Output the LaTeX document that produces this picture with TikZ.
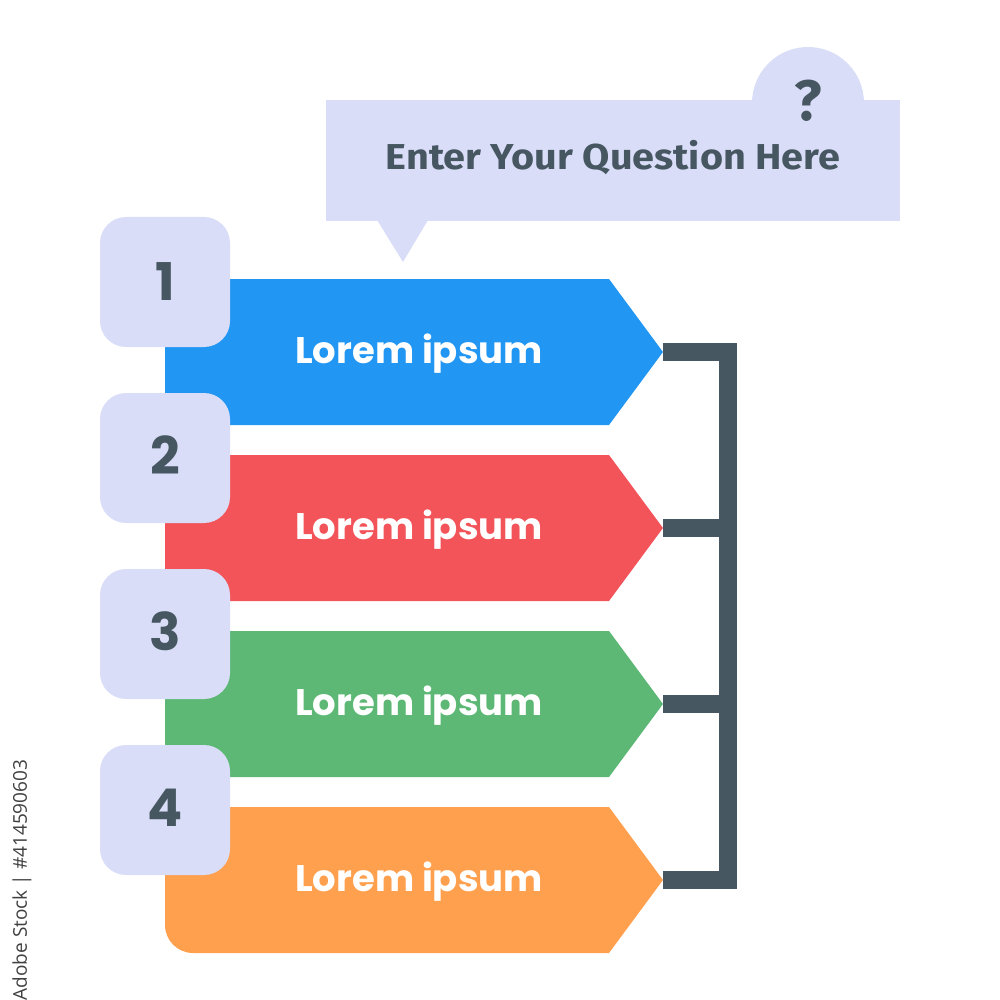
\documentclass[tikz,border=0pt]{standalone}
\usepackage{fontspec}
\setmainfont{Poppins}
\newfontfamily\qfont{Fira Sans}
\newfontfamily\wmfont{Open Sans}
\definecolor{lav}{HTML}{DADDF8}
\definecolor{slate}{HTML}{465762}
\definecolor{cblue}{HTML}{2196F3}
\definecolor{cred}{HTML}{F3545A}
\definecolor{cgreen}{HTML}{5CB874}
\definecolor{corange}{HTML}{FFA04F}
\begin{document}
\begin{tikzpicture}[x=1pt,y=-1pt,
  numbox/.style={fill=lav, rounded corners=26pt},
  numtxt/.style={text=slate, font=\fontsize{52}{52}\selectfont\bfseries, inner sep=0pt, anchor=base},
  bandtxt/.style={text=white, font=\fontsize{37}{37}\selectfont\bfseries, inner sep=0pt, anchor=base},
  bracket/.style={draw=slate, line width=18pt, line join=miter, line cap=butt}]
\useasboundingbox (0,0) rectangle (1000,1000);
% speech bubble
\fill[lav] (808,103) circle (56pt);
\fill[lav] (326,100) rectangle (900,221);
\fill[lav] (377,220) -- (428,220) -- (403,262) -- cycle;
\node[text=slate, font=\qfont\fontsize{57}{57}\selectfont\bfseries, inner sep=0pt] (qmark) at (808,101) {?};
\node[text=slate, font=\qfont\fontsize{36}{36}\selectfont\bfseries, inner sep=0pt, anchor=base] (question) at (613,170) {\scalebox{1.1}[1]{Enter Your Question Here}};
% bands
\fill[cblue] (165,279) -- (609,279) -- (663,352) coordinate (t1) -- (609,425) -- (165,425) -- cycle;
\fill[cred] (165,455) -- (609,455) -- (663,528) coordinate (t2) -- (609,601) -- (165,601) -- cycle;
\fill[cgreen] (165,631) -- (609,631) -- (663,704) coordinate (t3) -- (609,777) -- (165,777) -- cycle;
\fill[corange] (165,807) -- (609,807) -- (663,880) coordinate (t4) -- (609,953) -- (193,953) arc[start angle=270, end angle=180, radius=28pt] -- cycle;
\node[bandtxt] (l1) at (419,363) {Lorem ipsum};
\node[bandtxt] (l2) at (419,539) {Lorem ipsum};
\node[bandtxt] (l3) at (419,715) {Lorem ipsum};
\node[bandtxt] (l4) at (419,891) {Lorem ipsum};
% bracket
\coordinate (c1) at (728,352);
\coordinate (c2) at (728,528);
\coordinate (c3) at (728,704);
\coordinate (c4) at (728,880);
\draw[bracket] (t1) -- (c1) -- (c4) -- (t4);
\draw[bracket] (t2) -- (c2);
\draw[bracket] (t3) -- (c3);
% number boxes
\fill[numbox] (100,217) rectangle (230,347);
\fill[numbox] (100,393) rectangle (230,523);
\fill[numbox] (100,569) rectangle (230,699);
\fill[numbox] (100,745) rectangle (230,875);
\node[numtxt] (n1) at (165,300) {1};
\node[numtxt] (n2) at (165,474) {2};
\node[numtxt] (n3) at (165,650) {3};
\node[numtxt] (n4) at (165,826) {4};
% watermark label
\node[text=black!75, font=\wmfont\fontsize{19}{19}\selectfont, rotate=90, inner sep=0pt] (wm) at (22,880) {Adobe Stock | \#414590603};
\end{tikzpicture}
\end{document}
